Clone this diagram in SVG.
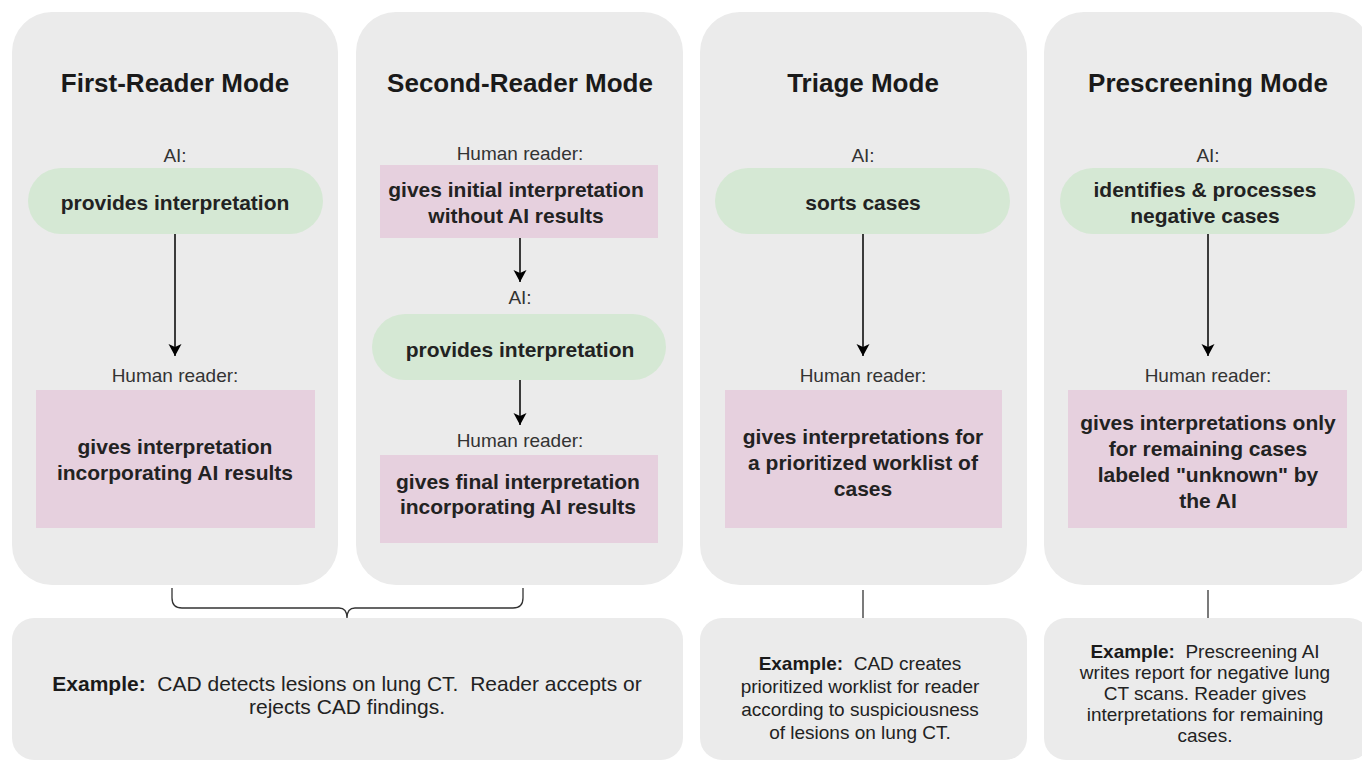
<svg xmlns="http://www.w3.org/2000/svg" width="1362" height="763" viewBox="0 0 1362 763">
<style>
.panel{fill:#ebebeb;}
.ai{fill:#d5e8d4;}
.hr{fill:#e6d0de;}
text{font-family:"Liberation Sans",Arial,sans-serif;text-anchor:middle;}
.title{font-size:26px;font-weight:bold;fill:#1a1a1a;}
.lbl{font-size:19px;fill:#333;}
.body{font-size:21px;font-weight:bold;fill:#222;}
.ex1{font-size:21px;fill:#222;}
.ex{font-size:19px;fill:#222;}
.b{font-weight:bold;fill:#1a1a1a;}
.conn{stroke:#000;stroke-width:1.5;fill:none;}
.thin{stroke:#333;stroke-width:1.3;fill:none;}
</style>
<defs>
<marker id="arr" markerWidth="14" markerHeight="14" refX="12" refY="6.5" orient="auto" markerUnits="userSpaceOnUse">
<path d="M0,0 L12,6.5 L0,13 L3,6.5 Z" fill="#000"/>
</marker>
</defs>
<rect width="1362" height="763" fill="#fff"/>

<g id="panel-first">
<rect class="panel" x="12" y="12" width="326" height="573" rx="40"/>
<text class="title" x="175" y="92">First-Reader Mode</text>
<text class="lbl" x="175" y="162">AI:</text>
<rect class="ai" x="28" y="168" width="295" height="66" rx="33"/>
<text class="body" x="175" y="210">provides interpretation</text>
<text class="lbl" x="175" y="382">Human reader:</text>
<rect class="hr" x="36" y="390" width="279" height="138"/>
<text class="body" x="175" y="454">gives interpretation</text>
<text class="body" x="175" y="480">incorporating AI results</text>
</g>

<g id="panel-second">
<rect class="panel" x="356" y="12" width="327" height="573" rx="40"/>
<text class="title" x="520" y="92">Second-Reader Mode</text>
<text class="lbl" x="520" y="160">Human reader:</text>
<rect class="hr" x="380" y="165" width="278" height="73"/>
<text class="body" x="516" y="197">gives initial interpretation</text>
<text class="body" x="516" y="223">without AI results</text>
<text class="lbl" x="520" y="304">AI:</text>
<rect class="ai" x="372" y="314" width="294" height="66" rx="33"/>
<text class="body" x="520" y="357">provides interpretation</text>
<text class="lbl" x="520" y="447">Human reader:</text>
<rect class="hr" x="380" y="455" width="278" height="88"/>
<text class="body" x="518" y="489">gives final interpretation</text>
<text class="body" x="518" y="514">incorporating AI results</text>
</g>

<g id="panel-triage">
<rect class="panel" x="700" y="12" width="327" height="573" rx="40"/>
<text class="title" x="863" y="92">Triage Mode</text>
<text class="lbl" x="863" y="162">AI:</text>
<rect class="ai" x="715" y="168" width="295" height="66" rx="33"/>
<text class="body" x="863" y="210">sorts cases</text>
<text class="lbl" x="863" y="382">Human reader:</text>
<rect class="hr" x="725" y="390" width="277" height="138"/>
<text class="body" x="863" y="444">gives interpretations for</text>
<text class="body" x="863" y="470">a prioritized worklist of</text>
<text class="body" x="863" y="496">cases</text>
</g>

<g id="panel-prescreening">
<rect class="panel" x="1044" y="12" width="327" height="573" rx="40"/>
<text class="title" x="1208" y="92">Prescreening Mode</text>
<text class="lbl" x="1208" y="162">AI:</text>
<rect class="ai" x="1060" y="168" width="295" height="66" rx="33"/>
<text class="body" x="1205" y="197">identifies &amp; processes</text>
<text class="body" x="1205" y="223">negative cases</text>
<text class="lbl" x="1208" y="382">Human reader:</text>
<rect class="hr" x="1068" y="390" width="279" height="138"/>
<text class="body" x="1208" y="430">gives interpretations only</text>
<text class="body" x="1208" y="456">for remaining cases</text>
<text class="body" x="1208" y="482">labeled "unknown" by</text>
<text class="body" x="1208" y="508">the AI</text>
</g>

<g id="example-readers">
<rect class="panel" x="12" y="618" width="671" height="142" rx="22"/>
<text class="ex1" x="347" y="691"><tspan class="b">Example:</tspan>&#160; CAD detects lesions on lung CT.&#160; Reader accepts or</text>
<text class="ex1" x="347" y="714">rejects CAD findings.</text>
</g>

<g id="example-triage">
<rect class="panel" x="700" y="618" width="327" height="142" rx="22"/>
<text class="ex" x="860" y="670"><tspan class="b">Example:</tspan>&#160; CAD creates</text>
<text class="ex" x="860" y="693">prioritized worklist for reader</text>
<text class="ex" x="860" y="716">according to suspiciousness</text>
<text class="ex" x="860" y="739">of lesions on lung CT.</text>
</g>

<g id="example-prescreening">
<rect class="panel" x="1044" y="618" width="327" height="142" rx="22"/>
<text class="ex" x="1205" y="658"><tspan class="b">Example:</tspan>&#160; Prescreening AI</text>
<text class="ex" x="1205" y="679">writes report for negative lung</text>
<text class="ex" x="1205" y="700">CT scans. Reader gives</text>
<text class="ex" x="1205" y="721">interpretations for remaining</text>
<text class="ex" x="1205" y="742">cases.</text>
</g>

<g id="connectors">
<line class="conn" x1="175" y1="234" x2="175" y2="356" marker-end="url(#arr)"/>
<line class="conn" x1="520" y1="238" x2="520" y2="282" marker-end="url(#arr)"/>
<line class="conn" x1="520" y1="380" x2="520" y2="425" marker-end="url(#arr)"/>
<line class="conn" x1="863" y1="234" x2="863" y2="356" marker-end="url(#arr)"/>
<line class="conn" x1="1208" y1="234" x2="1208" y2="356" marker-end="url(#arr)"/>
<path class="thin" d="M172,588 L172,598 Q172,608 182,608 L339,608 Q347,608 347,618 M347,618 Q347,608 355,608 L513,608 Q523,608 523,598 L523,588"/>
<line class="thin" x1="863" y1="590" x2="863" y2="618"/>
<line class="thin" x1="1208" y1="590" x2="1208" y2="618"/>
</g>
</svg>
